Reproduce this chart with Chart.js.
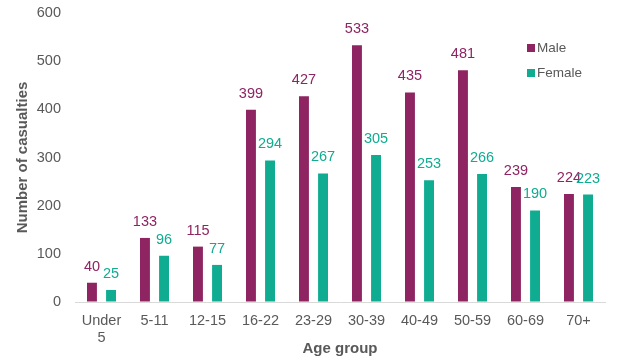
<!DOCTYPE html>
<html>
<head>
<meta charset="utf-8">
<script src="https://cdn.jsdelivr.net/npm/chart.js@4/dist/chart.umd.min.js"></script>
<style>
html,body{margin:0;padding:0;background:#fff;}
#wrap{width:623px;height:358px;position:relative;}
</style>
</head>
<body>
<div id="wrap"><canvas id="c"></canvas></div>
<script>
const categories = [['Under','5'], '5-11', '12-15', '16-22', '23-29', '30-39', '40-49', '50-59', '60-69', '70+'];
const maleValues = [40, 133, 115, 399, 427, 533, 435, 481, 239, 224];
const femaleValues = [25, 96, 77, 294, 267, 305, 253, 266, 190, 223];
const yTicks = [0, 100, 200, 300, 400, 500, 600];

const MALE = '#8e2461';
const FEMALE = '#0fac92';
const TEXT = '#595959';
const FONT = 'Liberation Sans, Arial, sans-serif';

const valueLabels = {
  id: 'valueLabels',
  afterDatasetsDraw(chart) {
    const ctx = chart.ctx;
    ctx.save();
    ctx.font = '14.5px ' + FONT;
    ctx.textAlign = 'center';
    ctx.textBaseline = 'middle';
    chart.data.datasets.forEach((ds, i) => {
      const meta = chart.getDatasetMeta(i);
      ctx.fillStyle = ds.backgroundColor;
      meta.data.forEach((bar, j) => {
        ctx.fillText(String(ds.data[j]), bar.x, bar.y - 16);
      });
    });
    ctx.restore();
  }
};

const sideLegend = {
  id: 'sideLegend',
  afterDraw(chart) {
    const ctx = chart.ctx;
    ctx.save();
    ctx.font = '13.5px ' + FONT;
    ctx.textBaseline = 'middle';
    ctx.textAlign = 'left';
    chart.data.datasets.forEach((ds, i) => {
      const y = 48 + i * 25;
      ctx.fillStyle = ds.backgroundColor;
      ctx.fillRect(527, y - 4, 8, 8);
      ctx.fillStyle = TEXT;
      ctx.fillText(ds.label, 537, y);
    });
    ctx.restore();
  }
};

new Chart(document.getElementById('c'), {
  type: 'bar',
  data: {
    labels: categories,
    datasets: [
      { label: 'Male', data: maleValues, backgroundColor: MALE, categoryPercentage: 0.72, barPercentage: 0.52 },
      { label: 'Female', data: femaleValues, backgroundColor: FEMALE, categoryPercentage: 0.72, barPercentage: 0.52 }
    ]
  },
  options: {
    responsive: true,
    maintainAspectRatio: false,
    animation: false,
    layout: { padding: { top: 13, right: 18, left: 14, bottom: 0 } },
    plugins: {
      legend: { display: false },
      tooltip: { enabled: false }
    },
    scales: {
      x: {
        grid: { display: false, drawTicks: false },
        border: { display: true, color: '#d9d9d9', width: 1 },
        ticks: { color: TEXT, font: { family: FONT, size: 14.5 }, padding: 10, maxRotation: 0, autoSkip: false },
        title: { display: true, text: 'Age group', color: TEXT, font: { family: FONT, size: 15, weight: 'bold' }, padding: { top: 0, bottom: 0 } },
        afterFit(s) { s.height = 56; }
      },
      y: {
        min: 0, max: 600,
        afterBuildTicks(s) { s.ticks = yTicks.map(v => ({ value: v })); },
        grid: { display: true, drawOnChartArea: false, drawTicks: true, tickLength: 14, tickColor: 'rgba(0,0,0,0)' },
        border: { display: false },
        ticks: { color: TEXT, font: { family: FONT, size: 14.5 }, padding: 0 },
        title: { display: true, text: 'Number of casualties', color: TEXT, font: { family: FONT, size: 15, weight: 'bold' }, padding: { top: 0, bottom: 0 } },
        afterFit(s) { s.width = 61; }
      }
    }
  },
  plugins: [valueLabels, sideLegend]
});
</script>
</body>
</html>
